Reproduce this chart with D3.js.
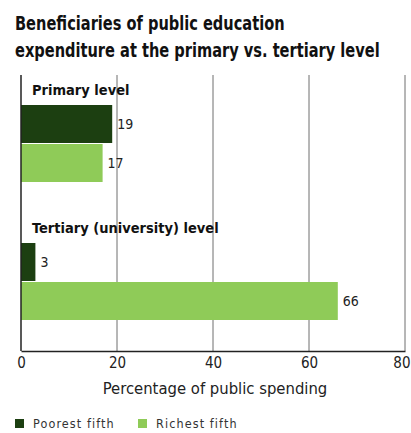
<!DOCTYPE html>
<html>
<head>
<meta charset="utf-8">
<script src="https://cdn.jsdelivr.net/npm/d3@7"></script>
<style>
html,body{margin:0;padding:0;background:#fff;}
svg{display:block;}
</style>
</head>
<body>
<svg id="chart" width="411" height="433"></svg>
<script>
const categories = ["Primary level", "Tertiary (university) level"];
const seriesNames = ["Poorest fifth", "Richest fifth"];
const poorestValues = [19, 3];
const richestValues = [17, 66];
const xTicks = [0, 20, 40, 60, 80];
const titleLines = ["Beneficiaries of public education", "expenditure at the primary vs. tertiary level"];
const axisTitle = "Percentage of public spending";
const colors = ["#1c3f11", "#8fcb58"];

const FONT = "'Liberation Sans Narrow','DejaVu Sans Condensed','Roboto Condensed','Liberation Sans',sans-serif";
const svg = d3.select("#chart");
svg.append("rect").attr("width", 411).attr("height", 433).attr("fill", "#fff");

// Title: 19px type, squeezed horizontally so the longer line spans about 365px
const titleG = svg.append("g");
const titleTexts = titleLines.map((t, i) => titleG.append("text")
    .attr("x", 0).attr("y", 30 + i * 27)
    .attr("font-family", FONT).attr("font-weight", "bold")
    .attr("font-size", 19).attr("fill", "#111")
    .text(t));
const natural = titleTexts[1].node().getComputedTextLength();
const sx = Math.min(1, 365 / natural);
titleG.attr("transform", `translate(15,0) scale(${sx},1)`);

const plotTop = 75, plotBottom = 351;
const x = d3.scaleLinear().domain([0, 80]).range([21, 405]);
const y0 = d3.scaleBand().domain(categories).range([105, 381]).paddingInner(0);
const y1 = d3.scaleBand().domain(seriesNames).range([0, 78]);

// Gridlines
svg.append("g").selectAll("line").data(xTicks.filter(d => d > 0)).join("line")
  .attr("x1", d => x(d)).attr("x2", d => x(d))
  .attr("y1", plotTop).attr("y2", plotBottom)
  .attr("stroke", "#6f6f6f").attr("stroke-width", 1);

// Bars
const rows = categories.map((c, i) => ({ cat: c, vals: [poorestValues[i], richestValues[i]] }));
const g = svg.append("g");
rows.forEach(r => {
  const gg = g.append("g").attr("transform", `translate(0,${y0(r.cat)})`);
  gg.selectAll("rect").data(r.vals.map((v, j) => ({ v, s: seriesNames[j], j }))).join("rect")
    .attr("x", x(0)).attr("y", d => y1(d.s))
    .attr("width", d => x(d.v) - x(0)).attr("height", y1.bandwidth() - 1)
    .attr("fill", d => colors[d.j]);
  gg.selectAll("text.val").data(r.vals.map((v, j) => ({ v, s: seriesNames[j] }))).join("text")
    .attr("class", "val")
    .attr("x", d => x(d.v) + 5).attr("y", d => y1(d.s) + y1.bandwidth() / 2)
    .attr("dy", "0.35em")
    .attr("font-family", FONT).attr("font-size", 14).attr("fill", "#222")
    .text(d => d.v);
  svg.append("text")
    .attr("x", 32).attr("y", y0(r.cat) - 15).attr("dy", "0.35em")
    .attr("font-family", FONT).attr("font-weight", "bold").attr("font-size", 14.5).attr("fill", "#111")
    .text(r.cat);
});

// Axis
const axis = d3.axisBottom(x).tickValues(xTicks).tickSize(0).tickPadding(6);
const ax = svg.append("g").attr("transform", `translate(0,${plotBottom})`).call(axis);
ax.select(".domain").attr("stroke", "#222").attr("stroke-width", 1.5);
ax.selectAll("text").attr("font-family", FONT).attr("font-size", 15).attr("fill", "#222");
ax.selectAll(".tick").filter(d => d === 80).select("text")
  .attr("text-anchor", "end").attr("dx", 5);
svg.append("line").attr("x1", x(0)).attr("x2", x(0)).attr("y1", plotTop).attr("y2", plotBottom)
  .attr("stroke", "#222").attr("stroke-width", 1.5);

svg.append("text").attr("x", 215).attr("y", 388).attr("dy", "0.35em")
  .attr("text-anchor", "middle").attr("font-family", FONT).attr("font-size", 16.5).attr("fill", "#222")
  .text(axisTitle);

// Legend
const legendX = [15, 138];
seriesNames.forEach((s, i) => {
  svg.append("rect").attr("x", legendX[i]).attr("y", 419).attr("width", 9).attr("height", 9)
    .attr("fill", colors[i]);
  svg.append("text").attr("x", legendX[i] + 18).attr("y", 424).attr("dy", "0.35em")
    .attr("font-family", FONT).attr("font-size", 12.5).attr("fill", "#333")
    .attr("letter-spacing", 1.1)
    .text(s);
});
</script>
</body>
</html>
